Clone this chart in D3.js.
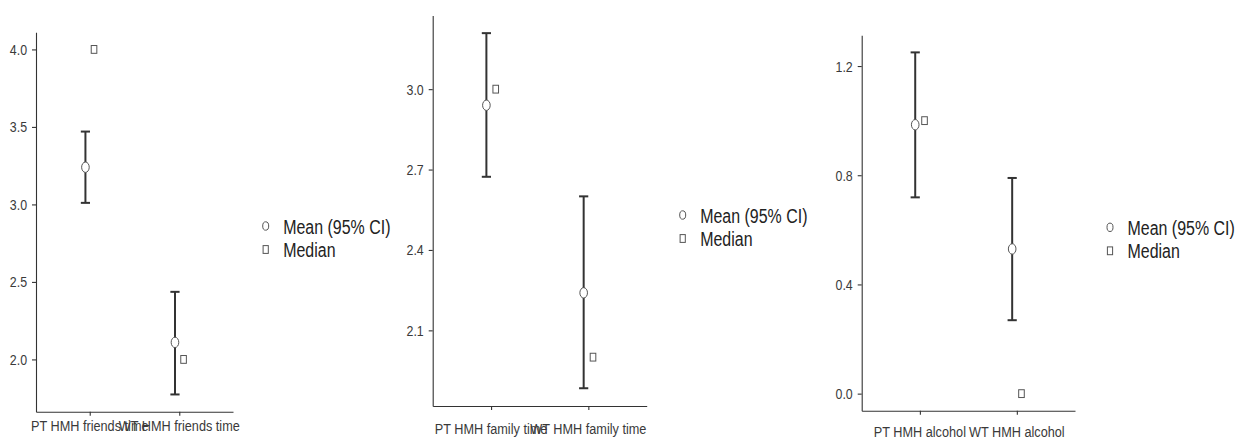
<!DOCTYPE html>
<html>
<head>
<meta charset="utf-8">
<script src="https://cdn.jsdelivr.net/npm/d3@7"></script>
<style>
  html, body { margin: 0; padding: 0; background: #fff; }
  svg text { font-family: "Liberation Sans", Arial, Helvetica, sans-serif; }
</style>
</head>
<body>
<svg id="chart" width="1245" height="440"></svg>
<script>
// Panel 1: time with friends
const friendsCategories = ["PT HMH friends time", "WT HMH friends time"];
const friendsMean = [3.24, 2.11];
const friendsLower = [3.01, 1.774];
const friendsUpper = [3.47, 2.436];
const friendsMedian = [4.0, 2.0];
const friendsTicks = [2.0, 2.5, 3.0, 3.5, 4.0];

// Panel 2: time with family
const familyCategories = ["PT HMH family time", "WT HMH family time"];
const familyMean = [2.94, 2.24];
const familyLower = [2.673, 1.884];
const familyUpper = [3.209, 2.60];
const familyMedian = [3.0, 2.0];
const familyTicks = [2.1, 2.4, 2.7, 3.0];

// Panel 3: alcohol
const alcoholCategories = ["PT HMH alcohol", "WT HMH alcohol"];
const alcoholMean = [0.985, 0.53];
const alcoholLower = [0.719, 0.269];
const alcoholUpper = [1.25, 0.79];
const alcoholMedian = [1.0, 0.0];
const alcoholTicks = [0.0, 0.4, 0.8, 1.2];

const legendLabels = ["Mean (95% CI)", "Median"];

const panels = [
  { cats: friendsCategories, mean: friendsMean, lo: friendsLower, hi: friendsUpper, med: friendsMedian, ticks: friendsTicks,
    left: 36, right: 233, bottom: 411.7, labelY: 431, legX: 265.7, legY: 226 },
  { cats: familyCategories, mean: familyMean, lo: familyLower, hi: familyUpper, med: familyMedian, ticks: familyTicks,
    left: 432.7, right: 646.7, bottom: 406, labelY: 434, legX: 682.7, legY: 215 },
  { cats: alcoholCategories, mean: alcoholMean, lo: alcoholLower, hi: alcoholUpper, med: alcoholMedian, ticks: alcoholTicks,
    left: 861.7, right: 1075, bottom: 410.7, labelY: 437, legX: 1110, legY: 227.3 }
];

// pixels per data unit on each panel's y axis
const pxPerUnit = [155, 268, 273];

// condensed lettering: horizontal squeeze applied to text
const tickSqueeze = 0.8, labelSqueeze = 0.82, legendSqueeze = 0.76;

const svg = d3.select("#chart");
const ink = "#333333";
const markerStroke = "#555555";

panels.forEach((p, i) => {
  const g = svg.append("g");

  // y domain: data range expanded by 5% on each side
  const allVals = p.lo.concat(p.hi, p.med, p.mean);
  const vmin = d3.min(allVals), vmax = d3.max(allVals);
  const pad = (vmax - vmin) * 0.05;
  const y0 = vmin - pad, y1 = vmax + pad;
  const top = p.bottom - (y1 - y0) * pxPerUnit[i];
  const y = d3.scaleLinear().domain([y0, y1]).range([p.bottom, top]);

  const x = d3.scalePoint().domain(p.cats).range([p.left, p.right]).padding(0.6);
  const dodge = x.step() * 0.048;

  // axes
  const tickLen = 4, tickPad = 5;
  const yAxis = d3.axisLeft(y).tickValues(p.ticks).tickFormat(d3.format(".1f"))
    .tickSizeInner(tickLen).tickSizeOuter(0).tickPadding(tickPad);
  const ya = g.append("g").attr("transform", `translate(${p.left},0)`).call(yAxis);
  ya.select(".domain").attr("stroke", ink).attr("stroke-width", 1.1);
  ya.selectAll(".tick line").attr("stroke", ink).attr("stroke-width", 1.1);
  ya.selectAll(".tick text").attr("fill", "#3a3a3a").attr("font-size", 15.5)
    .attr("x", -(tickLen + tickPad) / tickSqueeze)
    .attr("transform", `scale(${tickSqueeze},1)`);

  const xAxis = d3.axisBottom(x).tickSizeInner(tickLen).tickSizeOuter(0).tickFormat(() => "");
  const xa = g.append("g").attr("transform", `translate(0,${p.bottom})`).call(xAxis);
  xa.select(".domain").attr("stroke", ink).attr("stroke-width", 1.1);
  xa.selectAll(".tick line").attr("stroke", ink).attr("stroke-width", 1.1);

  g.selectAll(".xlab").data(p.cats).join("text")
    .attr("transform", d => `translate(${x(d)},${p.labelY}) scale(${labelSqueeze},1)`)
    .attr("text-anchor", "middle").attr("font-size", 15.5).attr("fill", "#3a3a3a")
    .text(d => d);

  // error bars
  const idx = d3.range(p.cats.length);
  const capW = 4.6;
  idx.forEach(k => {
    const cx = x(p.cats[k]) - dodge;
    g.append("line").attr("x1", cx).attr("x2", cx).attr("y1", y(p.lo[k])).attr("y2", y(p.hi[k]))
      .attr("stroke", ink).attr("stroke-width", 2);
    [p.lo[k], p.hi[k]].forEach(v => {
      g.append("line").attr("x1", cx - capW).attr("x2", cx + capW).attr("y1", y(v)).attr("y2", y(v))
        .attr("stroke", ink).attr("stroke-width", 2);
    });
  });

  // means
  g.selectAll(".mean").data(idx).join("ellipse")
    .attr("cx", k => x(p.cats[k]) - dodge).attr("cy", k => y(p.mean[k]))
    .attr("rx", 3.8).attr("ry", 5.2)
    .attr("fill", "#fff").attr("stroke", markerStroke).attr("stroke-width", 1);

  // medians
  g.selectAll(".median").data(idx).join("rect")
    .attr("x", k => x(p.cats[k]) + dodge - 2.8).attr("y", k => y(p.med[k]) - 3.9)
    .attr("width", 5.6).attr("height", 7.8)
    .attr("fill", "#fff").attr("stroke", markerStroke).attr("stroke-width", 1);

  // legend
  const lg = g.append("g").attr("transform", `translate(${p.legX},${p.legY})`);
  lg.append("ellipse").attr("cx", 0).attr("cy", 0).attr("rx", 3).attr("ry", 4.2)
    .attr("fill", "#fff").attr("stroke", markerStroke).attr("stroke-width", 1);
  lg.append("rect").attr("x", -2.6).attr("y", 23.5 - 3.9).attr("width", 5.2).attr("height", 7.8)
    .attr("fill", "#fff").attr("stroke", markerStroke).attr("stroke-width", 1);
  lg.selectAll("text").data(legendLabels).join("text")
    .attr("transform", (d, j) => `translate(17.5,${j * 23.5}) scale(${legendSqueeze},1)`)
    .attr("dy", "0.36em")
    .attr("font-size", 21).attr("fill", "#222")
    .text(d => d);
});
</script>
</body>
</html>
